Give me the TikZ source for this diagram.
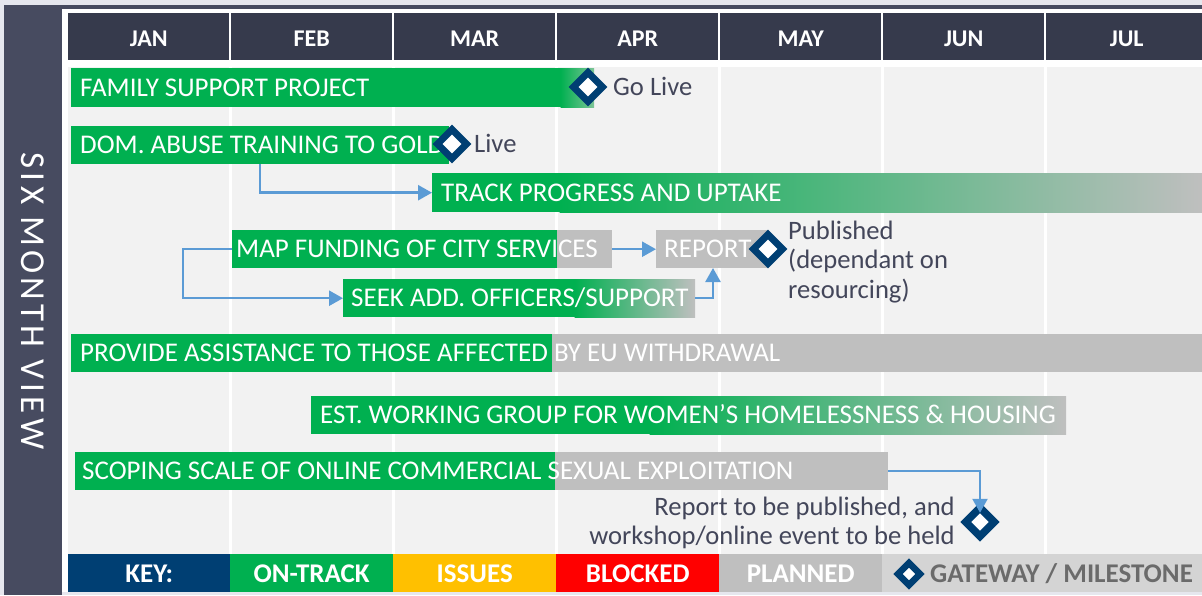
\documentclass[tikz,border=0pt]{standalone}
\usepackage{fontspec}
\setmainfont{Carlito}
\newfontfamily\titlefont[LetterSpace=12]{Carlito}
\usetikzlibrary{shapes.geometric,arrows.meta}
\definecolor{bgout}{HTML}{E6E7EE}
\definecolor{frame}{HTML}{474B60}
\definecolor{head}{HTML}{363A4C}
\definecolor{body}{HTML}{F2F2F2}
\definecolor{gn}{HTML}{00B050}
\definecolor{gnl}{HTML}{7DC597}
\definecolor{pl}{HTML}{BFBFBF}
\definecolor{navy}{HTML}{003F73}
\definecolor{amber}{HTML}{FFC000}
\definecolor{blk}{HTML}{FF0000}
\definecolor{keygray}{HTML}{D4D4D4}
\definecolor{keytxt}{HTML}{6B6B6B}
\definecolor{lbl}{HTML}{43465A}
\definecolor{arr}{HTML}{5B9BD5}
\begin{document}
\begin{tikzpicture}[x=1pt,y=-1pt,
  barbox/.style={rectangle, inner sep=0, anchor=north west},
  bartext/.style={anchor=west, inner sep=0, text=white, font=\fontsize{27}{31}\selectfont, text height=17, text depth=0},
  headcell/.style={rectangle, fill=head, inner sep=0, minimum width=161, minimum height=47, anchor=north west, text=white, font=\bfseries\fontsize{24}{27}\selectfont, text height=20.4, text depth=0},
  keycell/.style={rectangle, inner sep=0, minimum height=38, anchor=north west, text=white, font=\bfseries\fontsize{27}{30}\selectfont, text height=19.4, text depth=0},
  ms/.style={diamond, draw=navy, fill=white, line width=7, minimum width=29, minimum height=29, inner sep=0, outer sep=0},
  lbl/.style={inner sep=0, text=lbl, font=\fontsize{26.6}{30}\selectfont},
  conn/.style={draw=arr, line width=2.5, -{Triangle[length=14, width=15]}}
]
\useasboundingbox (0,0) rectangle (1202,595);
% backgrounds
\fill[bgout] (0,0) rectangle (1202,595);
\fill[frame] (4,4.5) rectangle (1202,595);
\fill[white] (62,8.5) rectangle (1202,592);
\fill[bgout] (62,592) rectangle (1202,595);
% left title
\node[rotate=-90, text=white, font=\titlefont\fontsize{35}{40}\selectfont, inner sep=0] (title) at (33,301) {SIX MONTH VIEW};
% header
\foreach \m [count=\i from 0] in {JAN,FEB,MAR,APR,MAY,JUN,JUL}{
  \node[headcell] (h\i) at ({68+163*\i},13) {\m};
}
% body
\fill[body] (68,67) rectangle (1202,554);
\foreach \i in {1,...,6}{
  \fill[white] ({229+163*(\i-1)},67) rectangle ({231.5+163*(\i-1)},554);
}
% bar fills
\fill[gn] (71,68) rectangle (561,107);
\shade[left color=gn, right color=gnl] (560.5,68) rectangle (594,107);
\fill[gn] (71,126) rectangle (449,164);
\fill[gn] (432,173) rectangle (560,212);
\shade[left color=gn, right color=pl] (559.5,173) rectangle (1202,212);
\fill[gn] (232,230) rectangle (557,268);
\fill[pl] (557,230) rectangle (612,268);
\fill[gn] (343,279) rectangle (575,317);
\shade[left color=gn, right color=pl] (574.5,279) rectangle (695,317);
\fill[pl] (656,230) rectangle (768,268);
\fill[gn] (71,334) rectangle (552,372);
\fill[pl] (552,334) rectangle (1202,372);
\fill[gn] (311,396) rectangle (650,434);
\shade[left color=gn, right color=pl] (649.5,396) rectangle (1066,434);
\fill[gn] (75,452) rectangle (555,490);
\fill[pl] (555,452) rectangle (888,490);
% bar nodes
\node[barbox, minimum width=523, minimum height=39] (fam) at (71,68) {};
\node[barbox, minimum width=378, minimum height=38] (dom) at (71,126) {};
\node[barbox, minimum width=770, minimum height=39] (track) at (432,173) {};
\node[barbox, minimum width=380, minimum height=38] (map) at (232,230) {};
\node[barbox, minimum width=352, minimum height=38] (seek) at (343,279) {};
\node[barbox, minimum width=112, minimum height=38] (rep) at (656,230) {};
\node[barbox, minimum width=1131, minimum height=38] (prov) at (71,334) {};
\node[barbox, minimum width=755, minimum height=38] (est) at (311,396) {};
\node[barbox, minimum width=813, minimum height=38] (scop) at (75,452) {};
% bar texts
\node[bartext] (famt) at ([xshift=9]fam.west) {FAMILY SUPPORT PROJECT};
\node[bartext] (domt) at ([xshift=9]dom.west) {DOM. ABUSE TRAINING TO GOLD};
\node[bartext] (trackt) at ([xshift=9]track.west) {TRACK PROGRESS AND UPTAKE};
\node[bartext] (mapt) at ([xshift=4]map.west) {MAP FUNDING OF CITY SERVICES};
\node[bartext] (seekt) at ([xshift=8]seek.west) {SEEK ADD. OFFICERS/SUPPORT};
\node[bartext] (rept) at ([xshift=8]rep.west) {REPORT};
\node[bartext] (provt) at ([xshift=9]prov.west) {PROVIDE ASSISTANCE TO THOSE AFFECTED BY EU WITHDRAWAL};
\node[bartext] (estt) at ([xshift=9]est.west) {EST. WORKING GROUP FOR WOMEN’S HOMELESSNESS \& HOUSING};
\node[bartext] (scopt) at ([xshift=7]scop.west) {SCOPING SCALE OF ONLINE COMMERCIAL SEXUAL EXPLOITATION};
% connectors
\coordinate (c1) at (260,164);
\draw[conn] (c1) |- (track.west);
\draw[conn] (map.west) -- ++(-49,0) |- (seek.west);
\draw[conn] (map.east) -- (rep.west);
\coordinate (c2) at (713,268);
\draw[conn] (seek.east) -| (c2);
% milestones
\node[ms] (d1) at (588,87) {};
\node[ms] (d2) at (452,144) {};
\node[ms] (d3) at (768,249) {};
\node[ms, minimum width=28.5, minimum height=28.5, line width=7.5] (d4) at (980,522) {};
\draw[conn] (scop.east) -| ([yshift=-5]d4.north);
% labels
\node[lbl, anchor=base west] (l1) at (613,95) {Go Live};
\node[lbl, anchor=base west] (l2) at (474,152) {Live};
\node[lbl, anchor=base west] (l3a) at (788,239) {Published};
\node[lbl, anchor=base west] (l3b) at (788,268.5) {(dependant on};
\node[lbl, anchor=base west] (l3c) at (788,298) {resourcing)};
\node[lbl, anchor=base east] (l4a) at (955,515) {Report to be published, and};
\node[lbl, anchor=base east] (l4b) at (955,544) {workshop/online event to be held};
% key
\node[keycell, fill=navy, minimum width=162] (k0) at (68,554) {KEY:};
\node[keycell, fill=gn, minimum width=163] (k1) at (230,554) {ON-TRACK};
\node[keycell, fill=amber, minimum width=163] (k2) at (393,554) {ISSUES};
\node[keycell, fill=blk, minimum width=163] (k3) at (556,554) {BLOCKED};
\node[keycell, fill=pl, minimum width=163] (k4) at (719,554) {PLANNED};
\node[keycell, fill=keygray, minimum width=320] (k5) at (882,554) {};
\node[ms, minimum width=22, minimum height=22, line width=6.5] (kd) at (909,574) {};
\node[anchor=base west, inner sep=0, text=keytxt, font=\bfseries\fontsize{27}{30}\selectfont] (k5t) at (930,582.7) {GATEWAY / MILESTONE};
\end{tikzpicture}
\end{document}
